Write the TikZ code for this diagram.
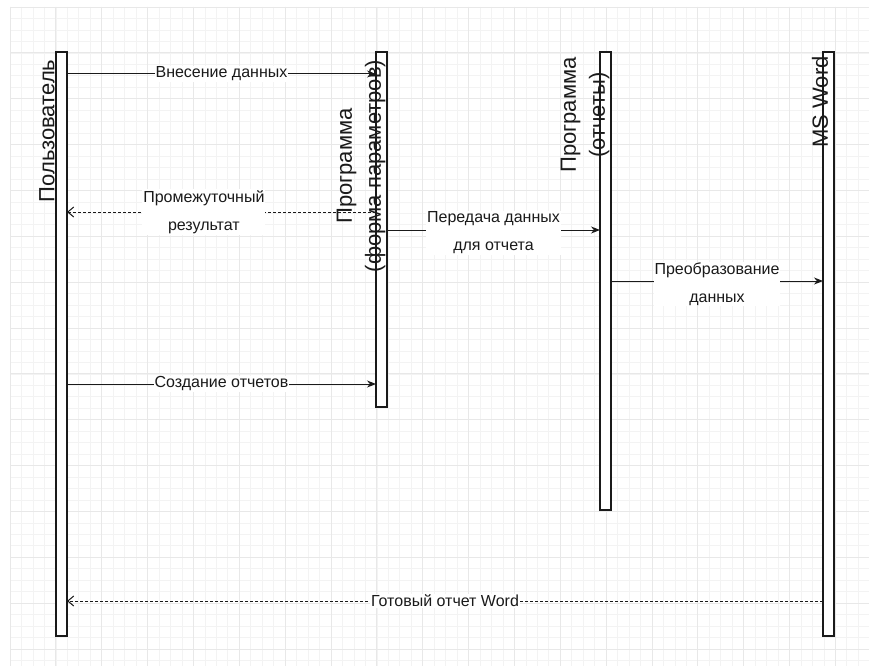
\documentclass[tikz,border=0pt]{standalone}
\usepackage{fontspec}
\setmainfont{Liberation Sans}
\usetikzlibrary{arrows.meta}
\definecolor{gridminor}{HTML}{F3F3F3}
\definecolor{gridmajor}{HTML}{E8E8E8}
\definecolor{ink}{HTML}{1A1A1A}
\tikzset{
  lifeline/.style={draw=ink, line width=1.1pt, fill=white, minimum width=11pt, inner sep=0pt, outer sep=0pt},
  lltext/.style={rotate=90, font=\fontsize{22}{29}\selectfont, align=center, text=ink, inner sep=0pt},
  msg/.style={draw=ink, line width=1pt, -{Stealth[length=9pt,width=7pt]}},
  ret/.style={draw=ink, line width=1pt, dash pattern=on 3pt off 2pt, -{Straight Barb[length=6pt,width=10pt]}},
  lbl/.style={fill=white, inner sep=1pt, font=\fontsize{16}{28}\selectfont, align=center, text=ink}
}
\begin{document}
\begin{tikzpicture}[x=1pt, y=-1pt]
\useasboundingbox (0,0) rectangle (869,666);
\fill[white] (0,0) rectangle (869,666);
% grid
\foreach \i in {0,...,75} {
  \draw[gridminor, line width=0.6pt] ({10+11.4625*\i},7) -- ({10+11.4625*\i},666);
}
\foreach \i in {0,...,57} {
  \draw[gridminor, line width=0.6pt] (10,{7+11.4625*\i}) -- (869,{7+11.4625*\i});
}
\foreach \i in {0,...,18} {
  \draw[gridmajor, line width=0.8pt] ({10+45.85*\i},7) -- ({10+45.85*\i},666);
}
\foreach \i in {0,...,14} {
  \draw[gridmajor, line width=0.8pt] (10,{7+45.85*\i}) -- (869,{7+45.85*\i});
}
% lifelines
\node[lifeline, minimum height=584pt] (u) at (61.5,344) {};
\node[lifeline, minimum height=355pt] (f) at (381.5,229.5) {};
\node[lifeline, minimum height=458pt] (r) at (605.5,281) {};
\node[lifeline, minimum height=584pt] (w) at (828.5,344) {};
% lifeline titles
\node[lltext] (ut) at (47,131) {Пользователь};
\node[lltext] (ft) at (361,166) {Программа\\(форма параметров)};
\node[lltext] (rt) at (585,115) {Программа\\(отчеты)};
\node[lltext] (wt) at (820,102) {MS Word};
% messages
\draw[msg] (u.east |- 0,74) -- node[lbl, midway] {Внесение данных} (f.west |- 0,74);
\draw[ret] (f.west |- 0,212) -- node[lbl, pos=0.557] {Промежуточный\\результат} (u.east |- 0,212);
\draw[msg] (f.east |- 0,230) -- node[lbl, midway, yshift=-3pt] {Передача данных\\для отчета} (r.west |- 0,230);
\draw[msg] (r.east |- 0,281) -- node[lbl, midway, yshift=-3pt] {Преобразование\\данных} (w.west |- 0,281);
\draw[msg] (u.east |- 0,384) -- node[lbl, midway] {Создание отчетов} (f.west |- 0,384);
\draw[ret] (w.west |- 0,601) -- node[lbl, midway] {Готовый отчет Word} (u.east |- 0,601);
\end{tikzpicture}
\end{document}
